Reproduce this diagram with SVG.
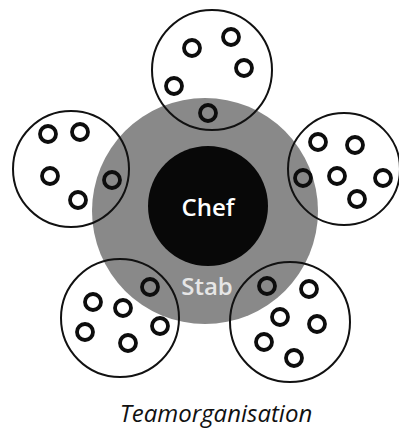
<svg xmlns="http://www.w3.org/2000/svg" width="399" height="434" viewBox="0 0 399 434">
<style>
.team{fill:none;stroke:#111;stroke-width:2}
.m{fill:none;stroke:#0d0d0d;stroke-width:3.8}
.lbl{font-family:"Open Sans","DejaVu Sans",sans-serif;font-weight:600;text-anchor:middle}
</style>
<rect width="399" height="434" fill="#fff"/>
<g id="stab">
<circle cx="205" cy="211" r="113" fill="#898989"/>
<text class="lbl" x="207" y="295" font-size="24" fill="#e6e6e6">Stab</text>
</g>
<g id="chef">
<circle cx="208" cy="206" r="60" fill="#080808"/>
<text class="lbl" x="208" y="216" font-size="24" fill="#fff">Chef</text>
</g>
<g id="team-top">
<circle class="team" cx="212" cy="70" r="60"/>
<circle class="m" cx="192" cy="48" r="8"/>
<circle class="m" cx="231" cy="37" r="8"/>
<circle class="m" cx="244" cy="68" r="8"/>
<circle class="m" cx="174" cy="86" r="8"/>
<circle class="m" cx="208" cy="113" r="8"/>
</g>
<g id="team-left">
<circle class="team" cx="71" cy="169" r="58"/>
<circle class="m" cx="48" cy="134" r="8"/>
<circle class="m" cx="80" cy="132" r="8"/>
<circle class="m" cx="50" cy="176" r="8"/>
<circle class="m" cx="78" cy="200" r="8"/>
<circle class="m" cx="112" cy="180" r="8"/>
</g>
<g id="team-right">
<circle class="team" cx="344" cy="169" r="56"/>
<circle class="m" cx="318" cy="142" r="8"/>
<circle class="m" cx="355" cy="145" r="8"/>
<circle class="m" cx="303" cy="178" r="8"/>
<circle class="m" cx="337" cy="176" r="8"/>
<circle class="m" cx="383" cy="178" r="8"/>
<circle class="m" cx="357" cy="199" r="8"/>
</g>
<g id="team-bottom-left">
<circle class="team" cx="120" cy="318" r="59"/>
<circle class="m" cx="150" cy="287" r="8"/>
<circle class="m" cx="93" cy="302" r="8"/>
<circle class="m" cx="123" cy="308" r="8"/>
<circle class="m" cx="160" cy="326" r="8"/>
<circle class="m" cx="85" cy="332" r="8"/>
<circle class="m" cx="128" cy="343" r="8"/>
</g>
<g id="team-bottom-right">
<circle class="team" cx="290" cy="322" r="60"/>
<circle class="m" cx="267" cy="286" r="8"/>
<circle class="m" cx="309" cy="289" r="8"/>
<circle class="m" cx="280" cy="317" r="8"/>
<circle class="m" cx="317" cy="324" r="8"/>
<circle class="m" cx="264" cy="342" r="8"/>
<circle class="m" cx="294" cy="358" r="8"/>
</g>
<g id="connectors"></g>
<text x="216" y="422" font-family="'Open Sans','DejaVu Sans',sans-serif" font-style="italic" font-size="24" text-anchor="middle" fill="#111">Teamorganisation</text>
</svg>
